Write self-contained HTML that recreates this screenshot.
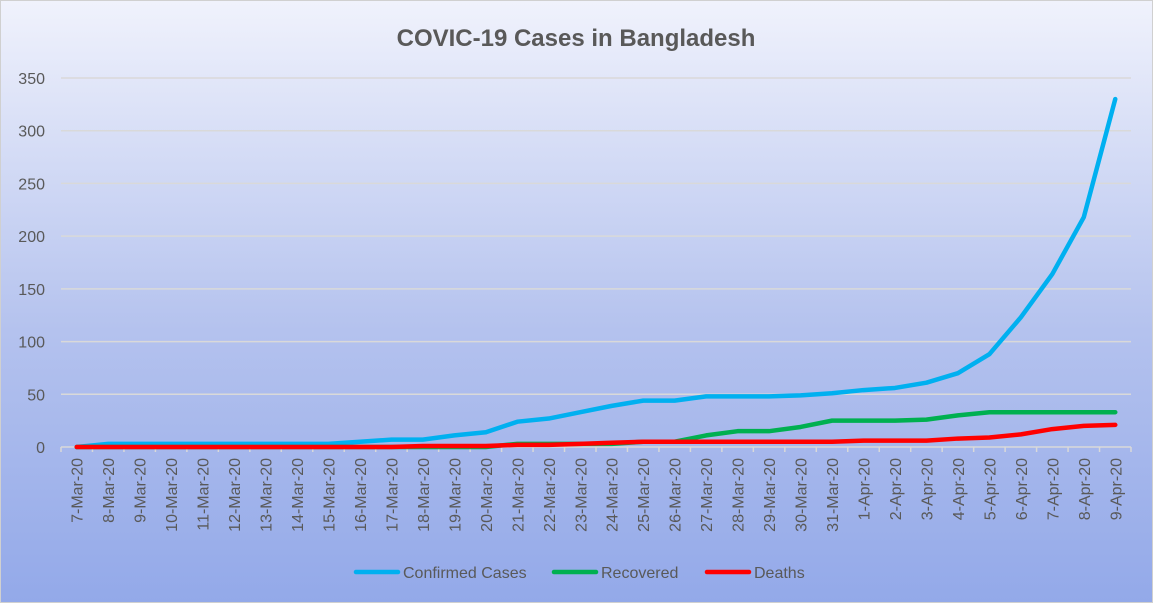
<!DOCTYPE html>
<html><head><meta charset="utf-8"><style>
html,body{margin:0;padding:0}
body{width:1153px;height:603px;overflow:hidden;font-family:"Liberation Sans",sans-serif}
#wrap{position:absolute;left:0;top:0;width:1151px;height:601px;border:1px solid #d0d0d0;background:linear-gradient(#f0f2fc,#b4c2ee 55%,#93a9e9)}
</style></head><body>
<div id="wrap">
<svg id="chart" width="1151" height="601"></svg>
</div>
<script>
const categories=["7-Mar-20","8-Mar-20","9-Mar-20","10-Mar-20","11-Mar-20","12-Mar-20","13-Mar-20","14-Mar-20","15-Mar-20","16-Mar-20","17-Mar-20","18-Mar-20","19-Mar-20","20-Mar-20","21-Mar-20","22-Mar-20","23-Mar-20","24-Mar-20","25-Mar-20","26-Mar-20","27-Mar-20","28-Mar-20","29-Mar-20","30-Mar-20","31-Mar-20","1-Apr-20","2-Apr-20","3-Apr-20","4-Apr-20","5-Apr-20","6-Apr-20","7-Apr-20","8-Apr-20","9-Apr-20"];
const confirmed=[0,3,3,3,3,3,3,3,3,5,7,7,11,14,24,27,33,39,44,44,48,48,48,49,51,54,56,61,70,88,123,164,218,330];
const recovered=[0,0,0,0,0,0,0,0,0,0,0,0,0,0,3,3,3,3,5,5,11,15,15,19,25,25,25,26,30,33,33,33,33,33];
const deaths=[0,0,0,0,0,0,0,0,0,0,0,1,1,1,2,2,3,4,5,5,5,5,5,5,5,6,6,6,8,9,12,17,20,21];
const yTicks=[0,50,100,150,200,250,300,350];
const NS="http://www.w3.org/2000/svg";
const svg=document.getElementById('chart');
const x0=60,x1=1130,yBase=446,yTop=77,yMax=350;
const bw=(x1-x0)/categories.length;
const X=i=>x0+bw*(i+0.5);
const Y=v=>yBase-(v/yMax)*(yBase-yTop);
function mk(t,a){const e=document.createElementNS(NS,t);for(const k in a)e.setAttribute(k,a[k]);svg.appendChild(e);return e;}
const title=mk('text',{x:575,y:45,'text-anchor':'middle','font-size':24,'font-weight':'bold',fill:'#595959'});
title.textContent='COVIC-19 Cases in Bangladesh';


yTicks.forEach(v=>{
 const g=mk('line',{x1:x0,x2:x1,y1:Y(v),y2:Y(v),stroke:'#d9d9d9','stroke-width':1.5});
 
 
 const t=mk('text',{x:44,y:Y(v)+6,'text-anchor':'end','font-size':16,fill:'#595959'});
 t.textContent=v;
 
 
});
for(let i=0;i<=categories.length;i++){
 const tk=mk('line',{x1:x0+bw*i,x2:x0+bw*i,y1:yBase,y2:yBase+5,stroke:'#d9d9d9','stroke-width':1.5});
 
 
}
categories.forEach((c,i)=>{
 const t=mk('text',{transform:`translate(${X(i)+6},457) rotate(-90)`,'text-anchor':'end','font-size':16,fill:'#595959'});
 t.textContent=c;
 
 
});
const series=[[confirmed,'#00b0f0','confirmed-line'],[recovered,'#00b050','recovered-line'],[deaths,'#ff0000','deaths-line']];
series.forEach(([d,col,n])=>{
 const p=mk('polyline',{points:d.map((v,i)=>X(i)+','+Y(v)).join(' '),fill:'none',stroke:col,'stroke-width':4.5,'stroke-linejoin':'round','stroke-linecap':'round'});
 
 
});
const legend=[['Confirmed Cases','#00b0f0',355],['Recovered','#00b050',553],['Deaths','#ff0000',706]];
legend.forEach(([l,col,lx])=>{
 const ln=mk('line',{x1:lx,x2:lx+42,y1:571,y2:571,stroke:col,'stroke-width':4.5,'stroke-linecap':'round'});
 
 
 const t=mk('text',{x:lx+47,y:577,'font-size':16,fill:'#595959'});
 t.textContent=l;
 
 
});
</script>
</body></html>
